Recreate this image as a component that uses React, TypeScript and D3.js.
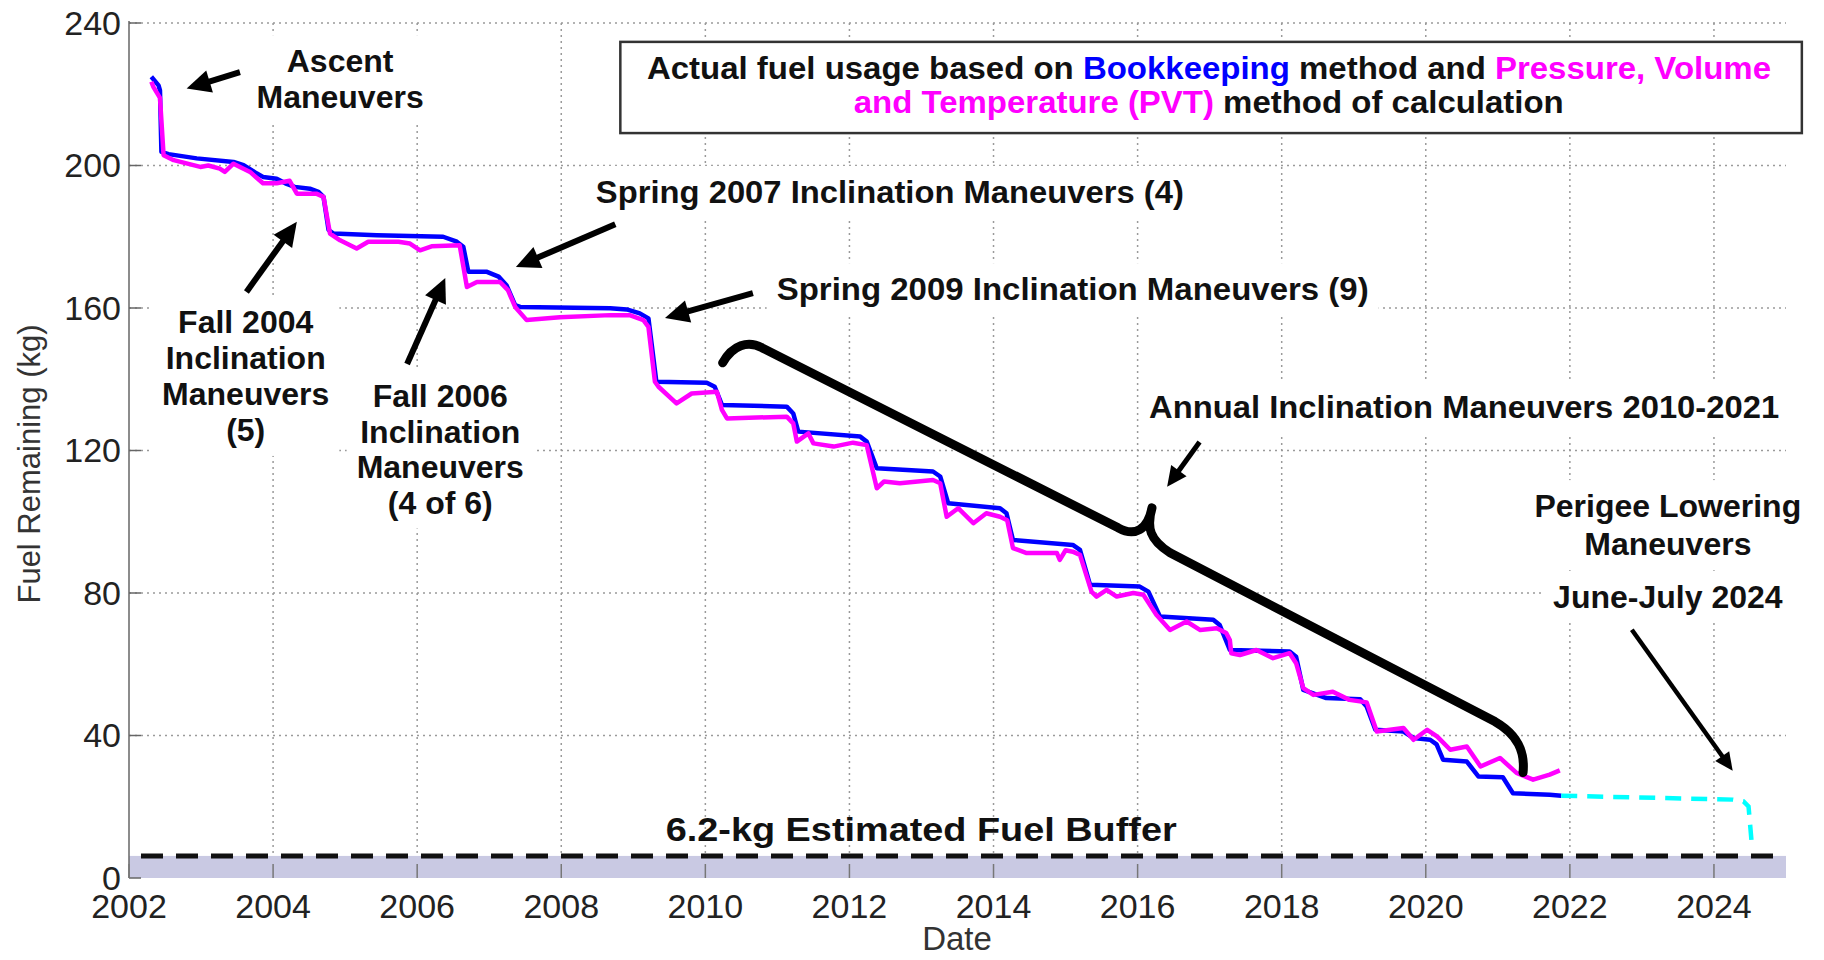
import { useEffect, useRef } from 'react';
import * as d3 from 'd3';

const yearTicks = [2002, 2004, 2006, 2008, 2010, 2012, 2014, 2016, 2018, 2020, 2022, 2024];
const kgTicks = [0, 40, 80, 120, 160, 200, 240];

// Bookkeeping method (blue), [year, kg]
const bookkeeping: [number, number][] = [
  [2002.31, 224.9], [2002.41, 222.5], [2002.43, 221.1], [2002.45, 203.8], [2002.55, 203.2],
  [2002.94, 202.0], [2003.45, 201.0], [2003.59, 200.1], [2003.77, 197.8], [2003.86, 196.8],
  [2004.05, 196.3], [2004.17, 195.0], [2004.30, 194.0], [2004.51, 193.5], [2004.63, 192.6],
  [2004.70, 191.2], [2004.77, 181.9], [2004.84, 180.9], [2005.44, 180.4], [2006.36, 180.0],
  [2006.55, 178.6], [2006.64, 177.2], [2006.71, 170.2], [2006.96, 170.2], [2007.13, 168.8],
  [2007.24, 166.4], [2007.36, 160.8], [2007.43, 160.3], [2008.68, 159.9], [2008.91, 159.6],
  [2009.09, 158.5], [2009.21, 157.1], [2009.32, 139.3], [2010.02, 139.0], [2010.13, 137.9],
  [2010.23, 132.8], [2011.13, 132.3], [2011.22, 130.4], [2011.29, 125.3], [2012.15, 123.9],
  [2012.24, 122.5], [2012.38, 115.0], [2013.16, 114.1], [2013.26, 112.7], [2013.37, 105.2],
  [2014.09, 103.8], [2014.18, 102.4], [2014.27, 94.9], [2015.10, 93.5], [2015.20, 92.1],
  [2015.34, 82.3], [2016.03, 81.8], [2016.15, 80.4], [2016.31, 73.4], [2017.05, 72.5],
  [2017.14, 71.0], [2017.28, 64.0], [2018.11, 63.6], [2018.20, 62.1], [2018.30, 52.8],
  [2018.62, 50.5], [2019.09, 50.2], [2019.18, 48.1], [2019.30, 41.6], [2019.69, 41.1],
  [2019.83, 39.3], [2020.06, 38.8], [2020.15, 37.5], [2020.24, 33.2], [2020.57, 32.7],
  [2020.73, 28.5], [2021.07, 28.3], [2021.21, 23.8], [2021.72, 23.4], [2021.88, 23.1],
];

// Pressure, Volume and Temperature method (magenta)
const pvt: [number, number][] = [
  [2002.31, 223.5], [2002.34, 222.0], [2002.43, 219.0], [2002.48, 202.9], [2002.62, 201.5],
  [2002.99, 199.6], [2003.10, 200.0], [2003.26, 199.1], [2003.33, 198.2], [2003.45, 200.5],
  [2003.68, 198.2], [2003.86, 195.0], [2004.05, 195.0], [2004.23, 195.7], [2004.33, 192.1],
  [2004.60, 192.1], [2004.70, 191.2], [2004.79, 180.9], [2004.93, 179.0], [2005.16, 176.7],
  [2005.32, 178.6], [2005.74, 178.6], [2005.90, 178.1], [2006.04, 176.2], [2006.20, 177.3],
  [2006.59, 177.6], [2006.69, 165.9], [2006.83, 167.3], [2007.15, 167.3], [2007.26, 165.0],
  [2007.36, 160.3], [2007.52, 156.6], [2007.98, 157.4], [2008.68, 158.0], [2008.95, 158.0],
  [2009.14, 156.6], [2009.21, 154.7], [2009.30, 139.3], [2009.35, 137.9], [2009.60, 133.2],
  [2009.81, 136.0], [2010.16, 136.5], [2010.23, 131.4], [2010.30, 129.0], [2011.13, 129.5],
  [2011.22, 127.6], [2011.27, 122.5], [2011.43, 124.8], [2011.50, 122.0], [2011.78, 121.1],
  [2012.05, 122.2], [2012.24, 121.5], [2012.38, 109.4], [2012.48, 111.3], [2012.70, 110.8],
  [2013.16, 111.7], [2013.26, 110.8], [2013.35, 101.4], [2013.51, 103.8], [2013.72, 99.6],
  [2013.90, 102.4], [2014.09, 101.4], [2014.19, 100.4], [2014.27, 92.6], [2014.46, 91.2],
  [2014.88, 91.2], [2014.92, 89.3], [2015.00, 92.0], [2015.10, 91.6], [2015.20, 90.7],
  [2015.36, 80.4], [2015.43, 79.0], [2015.57, 80.9], [2015.71, 79.0], [2015.94, 80.0],
  [2016.08, 79.5], [2016.26, 73.9], [2016.45, 69.6], [2016.68, 72.0], [2016.87, 69.6],
  [2017.10, 70.1], [2017.23, 68.8], [2017.28, 66.8], [2017.30, 63.1], [2017.42, 62.6],
  [2017.65, 64.0], [2017.88, 61.7], [2018.11, 63.1], [2018.20, 60.3], [2018.30, 53.3],
  [2018.44, 51.4], [2018.71, 52.3], [2018.94, 50.0], [2019.18, 49.3], [2019.32, 41.1],
  [2019.69, 42.1], [2019.83, 38.8], [2020.02, 41.6], [2020.16, 39.7], [2020.34, 36.0],
  [2020.57, 36.9], [2020.76, 31.3], [2021.03, 33.7], [2021.26, 29.5], [2021.49, 27.6],
  [2021.72, 29.0], [2021.86, 30.2],
];

// predicted usage through perigee lowering (cyan dashed)
const predicted: [number, number][] = [
  [2021.88, 23.1], [2024.26, 22.0], [2024.41, 21.5], [2024.48, 20.1], [2024.52, 10.7],
];

const bufferKg = 6.2;

// annotation text: first baseline at [year, kg]
const notes = [
  { lines: ['Ascent', 'Maneuvers'], at: [2004.93, 226.2], lh: 36, anchor: 'middle' },
  { lines: ['Fall 2004', 'Inclination', 'Maneuvers', '(5)'], at: [2003.62, 153.0], lh: 36, anchor: 'middle' },
  { lines: ['Fall 2006', 'Inclination', 'Maneuvers', '(4 of 6)'], at: [2006.32, 132.2], lh: 35.5, anchor: 'middle' },
  { lines: ['Spring 2007 Inclination Maneuvers (4)'], at: [2008.48, 189.5], lh: 0, anchor: 'start', len: 588 },
  { lines: ['Spring 2009 Inclination Maneuvers (9)'], at: [2010.99, 162.2], lh: 0, anchor: 'start', len: 592 },
  { lines: ['Annual Inclination Maneuvers 2010-2021'], at: [2016.16, 129.1], lh: 0, anchor: 'start', len: 630 },
  { lines: ['Perigee Lowering', 'Maneuvers'], at: [2023.36, 101.3], lh: 38, anchor: 'middle' },
  { lines: ['June-July 2024'], at: [2023.36, 75.8], lh: 0, anchor: 'middle' },
];

// arrows: tail -> head
const arrows = [
  { from: [2003.54, 226.2], to: [2002.80, 221.6], w: 6 },
  { from: [2003.63, 164.5], to: [2004.33, 184.2], w: 6 },
  { from: [2005.86, 144.3], to: [2006.39, 168.4], w: 6 },
  { from: [2008.75, 183.5], to: [2007.37, 171.5], w: 6 },
  { from: [2010.66, 164.2], to: [2009.44, 157.2], w: 6 },
  { from: [2016.86, 122.4], to: [2016.41, 109.8], w: 5 },
  { from: [2022.86, 69.7], to: [2024.26, 30.1], w: 4.5 },
];

// brace over the annual maneuvers (cubic segments)
const brace: [number, number][] = [
  [2010.24, 144.6], [2010.38, 149.6], [2010.59, 151.0], [2010.79, 148.8],
  [2015.73, 98.3], [2015.96, 95.7], [2016.14, 97.7], [2016.20, 103.9],
  [2016.12, 98.3], [2016.17, 94.9], [2016.45, 91.3],
  [2020.96, 43.9], [2021.28, 40.2], [2021.38, 35.5], [2021.35, 29.6],
];

export default function App() {
  const svgRef = useRef<SVGSVGElement>(null);

  useEffect(() => {
    const svg = d3.select(svgRef.current);
    svg.selectAll('*').remove();

    const x = d3.scaleLinear().domain([2002, 2025]).range([129, 1786]);
    const y = d3.scaleLinear().domain([0, 240]).range([878, 23]);
    const [x0, x1] = x.range();
    const [y0, y1] = y.range();
    const font = "'Liberation Sans', Arial, sans-serif";

    svg.append('rect').attr('width', 1824).attr('height', 960).attr('fill', '#fff');

    // grid
    const grid = svg.append('g').attr('stroke', '#9a9a9a').attr('stroke-width', 1.5).attr('stroke-dasharray', '2 4');
    grid.selectAll('line.h').data(kgTicks.filter(d => d > 0)).join('line').attr('class', 'h')
      .attr('x1', x0).attr('x2', x1).attr('y1', d => y(d)).attr('y2', d => y(d));
    grid.selectAll('line.v').data(yearTicks.filter(d => d > 2002)).join('line').attr('class', 'v')
      .attr('x1', d => x(d)).attr('x2', d => x(d)).attr('y1', y1).attr('y2', y0);

    // buffer band
    svg.append('rect').attr('x', x0).attr('width', x1 - x0)
      .attr('y', y(bufferKg)).attr('height', y(0) - y(bufferKg)).attr('fill', '#c9c9e3');

    // axis line + ticks
    svg.append('line').attr('x1', x0).attr('x2', x0).attr('y1', y1 - 2).attr('y2', y0)
      .attr('stroke', '#666').attr('stroke-width', 1.5);
    svg.append('g').selectAll('line').data(kgTicks).join('line')
      .attr('x1', x0).attr('x2', x0 + 12).attr('y1', d => y(d)).attr('y2', d => y(d))
      .attr('stroke', '#666').attr('stroke-width', 1.5);
    svg.append('g').selectAll('line').data(yearTicks).join('line')
      .attr('x1', d => x(d)).attr('x2', d => x(d)).attr('y1', y0).attr('y2', y0 - 14)
      .attr('stroke', '#777').attr('stroke-width', 1.5);

    // tick labels
    svg.append('g').selectAll('text').data(kgTicks).join('text')
      .attr('x', x0 - 8).attr('y', d => y(d)).attr('dy', '0.35em').attr('text-anchor', 'end')
      .attr('font-family', font).attr('font-size', 34).attr('fill', '#222').text(d => d);
    svg.append('g').selectAll('text').data(yearTicks).join('text')
      .attr('x', d => x(d)).attr('y', 918).attr('text-anchor', 'middle')
      .attr('font-family', font).attr('font-size', 34).attr('fill', '#222').text(d => d);

    svg.append('text').attr('transform', 'translate(40,464) rotate(-90)').attr('text-anchor', 'middle')
      .attr('font-family', font).attr('font-size', 31).attr('fill', '#333').text('Fuel Remaining (kg)');
    svg.append('text').attr('x', 957).attr('y', 950).attr('text-anchor', 'middle')
      .attr('font-family', font).attr('font-size', 33).attr('fill', '#333').text('Date');

    // white backgrounds behind annotation text (filled after measuring)
    const bg = svg.append('g');

    // legend box
    const lx0 = x(2008.82), lx1 = x(2025.22), ly0 = y(234.7), ly1 = y(209.1);
    svg.append('rect').attr('x', lx0).attr('y', ly0).attr('width', lx1 - lx0).attr('height', ly1 - ly0)
      .attr('fill', '#fff').attr('stroke', '#333').attr('stroke-width', 2.5);
    const leg = svg.append('g').attr('font-family', font).attr('font-weight', 700).attr('font-size', 31);
    const l1 = leg.append('text').attr('x', x(2009.19)).attr('y', y(224.3))
      .attr('textLength', 1124).attr('lengthAdjust', 'spacingAndGlyphs');
    l1.append('tspan').attr('fill', '#111').text('Actual fuel usage based on ');
    l1.append('tspan').attr('fill', '#0000ff').text('Bookkeeping');
    l1.append('tspan').attr('fill', '#111').text(' method and ');
    l1.append('tspan').attr('fill', '#ff00ff').text('Pressure, Volume');
    const l2 = leg.append('text').attr('x', x(2012.06)).attr('y', y(214.7))
      .attr('textLength', 710).attr('lengthAdjust', 'spacingAndGlyphs');
    l2.append('tspan').attr('fill', '#ff00ff').text('and Temperature (PVT)');
    l2.append('tspan').attr('fill', '#111').text(' method of calculation');

    // data lines
    const line = d3.line<[number, number]>().x(d => x(d[0])).y(d => y(d[1]));
    svg.append('path').datum(bookkeeping).attr('d', line).attr('fill', 'none')
      .attr('stroke', '#0000ff').attr('stroke-width', 4.5).attr('stroke-linejoin', 'round');
    svg.append('path').datum(pvt).attr('d', line).attr('fill', 'none')
      .attr('stroke', '#ff00ff').attr('stroke-width', 4.5).attr('stroke-linejoin', 'round');
    svg.append('path').datum(predicted).attr('d', line).attr('fill', 'none')
      .attr('stroke', '#00ffff').attr('stroke-width', 4.5).attr('stroke-dasharray', '16 10');

    // buffer line + label
    svg.append('line').attr('x1', x0 + 12).attr('x2', x1).attr('y1', y(bufferKg)).attr('y2', y(bufferKg))
      .attr('stroke', '#111').attr('stroke-width', 5).attr('stroke-dasharray', '22 13');
    svg.append('text').attr('x', x(2009.45)).attr('y', y(10.4))
      .attr('font-family', font).attr('font-weight', 700).attr('font-size', 34).attr('fill', '#111')
      .attr('textLength', 511).attr('lengthAdjust', 'spacingAndGlyphs').text('6.2-kg Estimated Fuel Buffer');

    // brace
    const p = brace.map(d => `${x(d[0])},${y(d[1])}`);
    const braceD = `M${p[0]}C${p[1]} ${p[2]} ${p[3]}L${p[4]}C${p[5]} ${p[6]} ${p[7]}C${p[8]} ${p[9]} ${p[10]}L${p[11]}C${p[12]} ${p[13]} ${p[14]}`;
    svg.append('path').attr('d', braceD).attr('fill', 'none').attr('stroke', '#000')
      .attr('stroke-width', 9).attr('stroke-linecap', 'round').attr('stroke-linejoin', 'round');

    // arrows
    const ag = svg.append('g').attr('fill', '#000').attr('stroke', '#000');
    arrows.forEach(a => {
      const ax = x(a.from[0]), ay = y(a.from[1]), bx = x(a.to[0]), by = y(a.to[1]);
      const len = Math.hypot(bx - ax, by - ay);
      const ux = (bx - ax) / len, uy = (by - ay) / len;
      const hl = a.w * 4, hw = a.w * 3.8;
      const cx = bx - ux * hl, cy = by - uy * hl;
      ag.append('line').attr('x1', ax).attr('y1', ay).attr('x2', cx + ux * 2).attr('y2', cy + uy * 2)
        .attr('stroke-width', a.w);
      ag.append('path').attr('stroke', 'none')
        .attr('d', `M${bx},${by}L${cx - uy * hw / 2},${cy + ux * hw / 2}L${cx + uy * hw / 2},${cy - ux * hw / 2}Z`);
    });

    // annotation text
    notes.forEach(n => {
      const g = svg.append('g').attr('font-family', font).attr('font-weight', 700).attr('font-size', 32)
        .attr('fill', '#111').attr('text-anchor', n.anchor);
      n.lines.forEach((t, i) => {
        const txt = g.append('text').attr('x', x(n.at[0])).attr('y', y(n.at[1]) + i * n.lh).text(t);
        if (n.len) txt.attr('textLength', n.len).attr('lengthAdjust', 'spacingAndGlyphs');
      });
      const b = (g.node() as SVGGElement).getBBox();
      bg.append('rect').attr('x', b.x - 10).attr('y', b.y - 8).attr('width', b.width + 20)
        .attr('height', b.height + 16).attr('fill', '#fff');
    });
  }, []);

  return (
    <div style={{ position: 'absolute', left: 0, top: 0 }}>
      <svg ref={svgRef} width={1824} height={960} style={{ display: 'block' }}></svg>
    </div>
  );
}
